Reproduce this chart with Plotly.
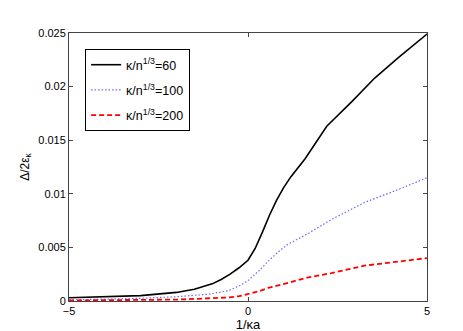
import plotly.graph_objects as go

# 1/(kappa a) sample points and Delta/2eps_kappa for each kappa/n^(1/3)
x60 = [-5, -4, -3, -2, -1.5, -1, -0.75, -0.5, -0.25, 0, 0.2, 0.4, 0.6, 0.8, 1.0, 1.2, 1.4, 1.6,
       2.2, 2.9, 3.54, 4.2, 5]
y60 = [0.0003, 0.0004, 0.0005, 0.0008, 0.0011, 0.0016, 0.0020, 0.0025, 0.0031, 0.0038, 0.0049, 0.0064,
       0.0080, 0.0094, 0.0106, 0.0116, 0.0125, 0.0133, 0.0163, 0.0186, 0.0208, 0.0227, 0.0249]

x100 = [-5, -4, -3, -2, -1.68, -1.12, -0.56, -0.25, 0, 0.3, 0.56, 0.85, 1.12, 1.4, 1.68, 2.33, 3.26, 4.2, 5]
y100 = [0.0001, 0.00015, 0.00025, 0.0004, 0.00048, 0.00063, 0.00095, 0.0014, 0.0019, 0.0028, 0.0037,
        0.0046, 0.0053, 0.0058, 0.0063, 0.0076, 0.0092, 0.0104, 0.0115]

x200 = [-5, -4, -3, -2, -1.68, -1.12, -0.56, -0.25, 0, 0.3, 0.56, 0.85, 1.12, 1.68, 2.33, 3.26, 4.2, 5]
y200 = [0.00005, 0.00006, 0.00008, 0.00013, 0.00017, 0.00022, 0.00033, 0.00045, 0.00063, 0.0009,
        0.00122, 0.0015, 0.0017, 0.0022, 0.0026, 0.0033, 0.0037, 0.0040]

labels = ["κ/n<sup>1/3</sup>=60", "κ/n<sup>1/3</sup>=100", "κ/n<sup>1/3</sup>=200"]

font = "Liberation Sans, Arial, sans-serif"

fig = go.Figure()
fig.add_trace(go.Scatter(x=x60, y=y60, mode="lines", name=labels[0], legendgroup="a",
                         line=dict(color="black", width=1.6)))
fig.add_trace(go.Scatter(x=x100, y=y100, mode="lines", name=labels[1], legendgroup="b",
                         line=dict(color="#6a6aff", width=1.2, dash="1.5px,2px")))
fig.add_trace(go.Scatter(x=x200, y=y200, mode="lines", name=labels[2], legendgroup="c",
                         line=dict(color="#ff0000", width=1.8, dash="5px,3px")))

axis_common = dict(showline=True, linecolor="#444", linewidth=1, mirror="ticks",
                   ticks="inside", ticklen=4, tickcolor="#444", showgrid=False,
                   zeroline=False, tickfont=dict(size=11, color="black", family=font))

fig.update_xaxes(range=[-5, 5], tickvals=[-5, 0, 5],
                 title=dict(text="1/κa", font=dict(size=13, color="black", family=font), standoff=2),
                 **axis_common)
fig.update_yaxes(range=[0, 0.025], dtick=0.005,
                 title=dict(text="Δ/2ε<sub>κ</sub>", font=dict(size=12, color="black", family=font), standoff=6),
                 **axis_common)

fig.update_layout(
    width=463, height=331,
    margin=dict(l=61, r=44, t=24.5, b=37.5),
    paper_bgcolor="white", plot_bgcolor="white",
    font=dict(family=font, color="black"),
    legend=dict(x=0.045, y=0.94, xanchor="left", yanchor="top",
                bgcolor="white", bordercolor="black", borderwidth=1,
                font=dict(size=12.5, family=font), itemwidth=30, tracegroupgap=6),
)

fig.write_html("out.html")
